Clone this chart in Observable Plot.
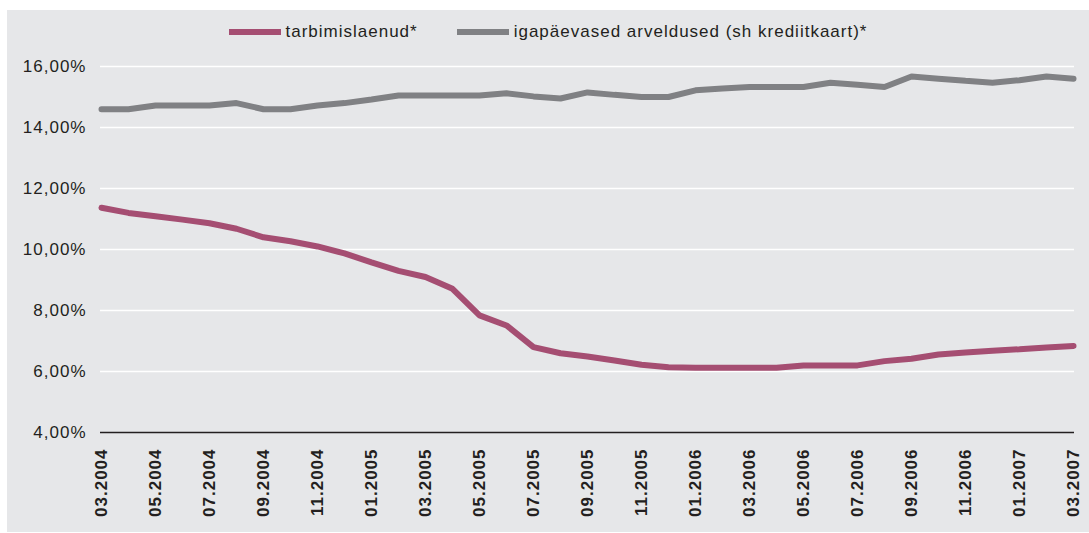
<!DOCTYPE html>
<html>
<head>
<meta charset="utf-8">
<script src="https://cdn.jsdelivr.net/npm/d3@7"></script>
<script src="https://cdn.jsdelivr.net/npm/@observablehq/plot@0.6"></script>
<style>
  html, body { margin: 0; padding: 0; background: #ffffff; }
  #panel {
    position: absolute; left: 7px; top: 10px; width: 1082px; height: 522px;
    background: #e6e7e9; font-family: "Liberation Sans", Arial, sans-serif;
  }
  #legend {
    height: 40px; display: flex; justify-content: center; align-items: center;
    padding-top: 4px; box-sizing: border-box;
    font-size: 17px; letter-spacing: 1px; color: #231f20;
  }
  .item { display: flex; align-items: center; }
  .item + .item { margin-left: 39px; }
  .sw { width: 52px; height: 6px; margin-right: 5px; }
  #chart svg text { letter-spacing: 1px; }
</style>
</head>
<body>
<div id="panel">
  <div id="legend"></div>
  <div id="chart"></div>
</div>
<script>
const months = [
  "03.2004","04.2004","05.2004","06.2004","07.2004","08.2004","09.2004","10.2004","11.2004","12.2004",
  "01.2005","02.2005","03.2005","04.2005","05.2005","06.2005","07.2005","08.2005","09.2005","10.2005",
  "11.2005","12.2005","01.2006","02.2006","03.2006","04.2006","05.2006","06.2006","07.2006","08.2006",
  "09.2006","10.2006","11.2006","12.2006","01.2007","02.2007","03.2007"
];
const seriesNames = ["tarbimislaenud*", "igapäevased arveldused (sh krediitkaart)*"];
const seriesColors = ["#a54e72", "#808184"];
const tarbimislaenud = [
  11.37, 11.2, 11.09, 10.98, 10.86, 10.68, 10.4, 10.27, 10.1, 9.87,
  9.58, 9.3, 9.1, 8.71, 7.84, 7.51, 6.8, 6.6, 6.49, 6.36,
  6.22, 6.14, 6.12, 6.12, 6.12, 6.12, 6.2, 6.2, 6.2, 6.34,
  6.42, 6.56, 6.62, 6.68, 6.73, 6.79, 6.84
];
const arveldused = [
  14.6, 14.6, 14.72, 14.72, 14.72, 14.8, 14.6, 14.6, 14.72, 14.8,
  14.92, 15.05, 15.05, 15.05, 15.05, 15.12, 15.02, 14.95, 15.15, 15.07,
  15.0, 15.0, 15.22, 15.28, 15.33, 15.33, 15.33, 15.47, 15.4, 15.33,
  15.67, 15.6, 15.53, 15.47, 15.55, 15.67, 15.6
];
const yTicks = [4, 6, 8, 10, 12, 14, 16];
const xTicks = months.filter((d, i) => i % 2 === 0);

const data = months.flatMap((m, i) => [
  {month: m, value: tarbimislaenud[i], series: seriesNames[0]},
  {month: m, value: arveldused[i], series: seriesNames[1]}
]);

// legend
const legend = document.getElementById("legend");
seriesNames.forEach((name, i) => {
  const item = document.createElement("div");
  item.className = "item";
  const sw = document.createElement("span");
  sw.className = "sw";
  sw.style.background = seriesColors[i];
  const label = document.createElement("span");
  label.textContent = name;
  item.appendChild(sw);
  item.appendChild(label);
  legend.appendChild(item);
});

const chart = Plot.plot({
  width: 1082,
  height: 482,
  marginTop: 16,
  marginBottom: 100,
  marginLeft: 93,
  marginRight: 15,
  style: {background: "transparent", fontFamily: "'Liberation Sans', Arial, sans-serif", color: "#231f20"},
  x: {type: "point", domain: months, padding: 0},
  y: {domain: [4, 16]},
  color: {domain: seriesNames, range: seriesColors},
  marks: [
    Plot.gridY(yTicks.filter(d => d > 4), {stroke: "#ffffff", strokeOpacity: 1, strokeWidth: 1.6}),
    Plot.axisY(yTicks, {
      tickSize: 0, tickPadding: 14, fontSize: 17, fill: "#231f20",
      tickFormat: d => d.toFixed(2).replace(".", ",") + "%", label: null
    }),
    Plot.axisX(xTicks, {
      tickSize: 0, tickPadding: 16, tickRotate: -90, fontSize: 17, fontWeight: "bold",
      fill: "#231f20", label: null
    }),
    Plot.ruleY([4], {stroke: "#231f20", strokeWidth: 1.6}),
    Plot.line(data, {x: "month", y: "value", z: "series", stroke: "series", strokeWidth: 6, strokeLinejoin: "miter"})
  ]
});
document.getElementById("chart").appendChild(chart);
</script>
</body>
</html>
